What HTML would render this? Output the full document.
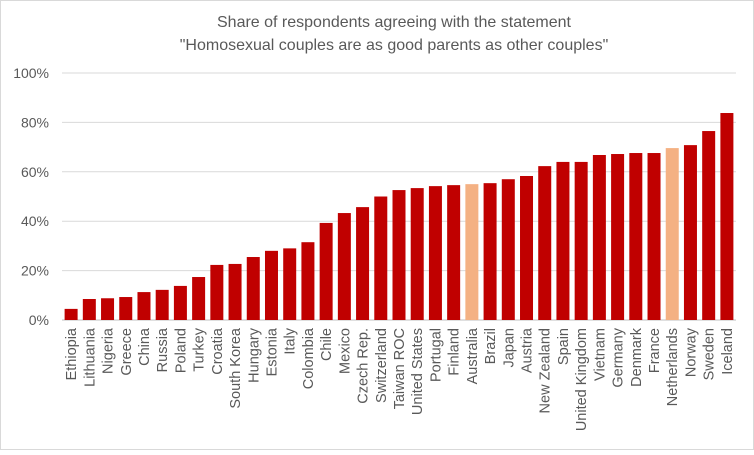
<!DOCTYPE html>
<html><head><meta charset="utf-8"><style>
body{margin:0;background:#fff;}
svg text{font-family:"Liberation Sans",sans-serif;fill:#595959;}
</style></head><body>
<svg width="754" height="450" xmlns="http://www.w3.org/2000/svg">
<rect x="0.5" y="0.5" width="753" height="449" fill="#fff" stroke="#d9d9d9"/>
<text x="394" y="27" text-anchor="middle" font-size="16">Share of respondents agreeing with the statement</text>
<text x="394" y="50" text-anchor="middle" font-size="16">"Homosexual couples are as good parents as other couples"</text>
<g id="grid"></g><g id="bars"></g><g id="xlabels"></g>
</svg>
<script>
const categories=["Ethiopia","Lithuania","Nigeria","Greece","China","Russia","Poland","Turkey","Croatia","South Korea","Hungary","Estonia","Italy","Colombia","Chile","Mexico","Czech Rep.","Switzerland","Taiwan ROC","United States","Portugal","Finland","Australia","Brazil","Japan","Austria","New Zealand","Spain","United Kingdom","Vietnam","Germany","Denmark","France","Netherlands","Norway","Sweden","Iceland"];
const values=[4.5,8.5,8.8,9.3,11.3,12.2,13.8,17.4,22.3,22.7,25.5,28,29,31.5,39.3,43.3,45.7,50,52.6,53.4,54.2,54.6,55,55.4,57,58.3,62.3,64,64,66.8,67.2,67.6,67.6,69.6,70.8,76.5,83.8];
const highlighted=["Australia","Netherlands"];
const yTicks=[0,20,40,60,80,100];
const NS="http://www.w3.org/2000/svg";
const y0=320,yTop=73,x0=62,x1=736;
const yS=v=>y0-(y0-yTop)*v/100;
const step=(x1-x0)/categories.length;
const xC=i=>x0+step*(i+0.5);
const grid=document.getElementById('grid'),bars=document.getElementById('bars'),xl=document.getElementById('xlabels');
yTicks.forEach(t=>{
 const l=document.createElementNS(NS,'line');
 l.setAttribute('x1',x0);l.setAttribute('x2',x1);l.setAttribute('y1',yS(t));l.setAttribute('y2',yS(t));
 l.setAttribute('stroke',t===0?'#bfbfbf':'#d9d9d9');
 
 
 grid.appendChild(l);
 const tx=document.createElementNS(NS,'text');
 tx.setAttribute('x',49);tx.setAttribute('y',yS(t)+5);tx.setAttribute('text-anchor','end');tx.setAttribute('font-size','14');
 tx.textContent=t+'%';
 
 
 grid.appendChild(tx);
});
categories.forEach((c,i)=>{
 const r=document.createElementNS(NS,'rect');
 const w=13;
 r.setAttribute('x',xC(i)-w/2);r.setAttribute('width',w);
 r.setAttribute('y',yS(values[i]));r.setAttribute('height',y0-yS(values[i]));
 r.setAttribute('fill',highlighted.includes(c)?'#F4B183':'#C00000');
 
 
 bars.appendChild(r);
 const t=document.createElementNS(NS,'text');
 t.setAttribute('transform',`translate(${xC(i)+5},328) rotate(-90)`);
 t.setAttribute('text-anchor','end');t.setAttribute('font-size','14.5');
 t.textContent=c;
 
 
 xl.appendChild(t);
});
</script>
</body></html>
